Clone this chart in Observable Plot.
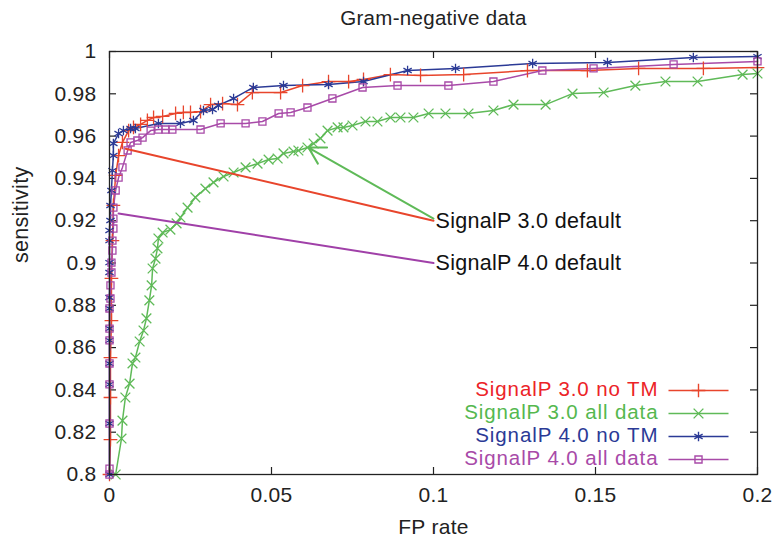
<!DOCTYPE html>
<html><head><meta charset="utf-8">
<script src="https://cdn.jsdelivr.net/npm/d3@7"></script>
<script src="https://cdn.jsdelivr.net/npm/@observablehq/plot@0.6"></script>
<style>body{margin:0;background:#fff;font-family:"Liberation Sans",Arial,sans-serif;} svg text{letter-spacing:0.3px;} svg g.legend-text text{letter-spacing:0.9px;}</style>
</head><body><div id="chart"></div>
<script>
const seriesNames = ["SignalP 3.0 no TM", "SignalP 3.0 all data", "SignalP 4.0 no TM", "SignalP 4.0 all data"];
const seriesColors = ["#e8452c", "#5fba58", "#2b3a96", "#a84aa8"];
const legendTextColors = ["#ec2327", "#55b84f", "#2b3a96", "#a84aa8"];
const seriesSymbols = ["plus", "times", "asterisk", "square2"];

const fp30noTM = [0, 0.0003, 0.0003, 0.0003, 0.0006, 0.0006, 0.0009, 0.0012, 0.0019, 0.0028, 0.0040, 0.0059, 0.0074, 0.0096, 0.0117, 0.0136, 0.0164, 0.0204, 0.0228, 0.0250, 0.0281, 0.0312, 0.0349, 0.0395, 0.0441, 0.0528, 0.0596, 0.0676, 0.0738, 0.0784, 0.0867, 0.0960, 0.1093, 0.1290, 0.1475, 0.1633, 0.1833, 0.2];
const sens30noTM = [0.8, 0.8165, 0.8364, 0.8553, 0.8728, 0.8927, 0.9106, 0.9272, 0.9414, 0.9508, 0.957, 0.9626, 0.9641, 0.9655, 0.9674, 0.9688, 0.9693, 0.9707, 0.9712, 0.9712, 0.9716, 0.9749, 0.9754, 0.9749, 0.9806, 0.9806, 0.9839, 0.9858, 0.9858, 0.9868, 0.9891, 0.9887, 0.9891, 0.9910, 0.9910, 0.9920, 0.9920, 0.9924];

const fp30all = [0.0019, 0.0037, 0.0040, 0.0049, 0.0062, 0.0071, 0.0080, 0.0093, 0.0105, 0.0114, 0.0123, 0.0130, 0.0133, 0.0142, 0.0148, 0.0151, 0.0164, 0.0188, 0.0207, 0.0219, 0.0241, 0.0265, 0.0296, 0.0321, 0.0352, 0.0383, 0.0420, 0.0457, 0.0491, 0.0519, 0.0537, 0.0568, 0.0583, 0.0611, 0.0630, 0.0651, 0.0673, 0.0704, 0.0722, 0.0750, 0.0790, 0.0827, 0.0867, 0.0898, 0.0938, 0.0985, 0.1037, 0.1108, 0.1185, 0.1247, 0.1346, 0.1429, 0.1525, 0.1623, 0.1716, 0.1815, 0.1954, 0.2];
const sens30all = [0.8, 0.817, 0.8255, 0.8364, 0.843, 0.8525, 0.8553, 0.8629, 0.8681, 0.8738, 0.8823, 0.8894, 0.8974, 0.9021, 0.9069, 0.9116, 0.9144, 0.9158, 0.9187, 0.9215, 0.9262, 0.9310, 0.9352, 0.9381, 0.9409, 0.9428, 0.9452, 0.9470, 0.9489, 0.9494, 0.9518, 0.9527, 0.9532, 0.9546, 0.9565, 0.9589, 0.9626, 0.9641, 0.9641, 0.9650, 0.9669, 0.9669, 0.9688, 0.9688, 0.9688, 0.9707, 0.9707, 0.9707, 0.9721, 0.9749, 0.9749, 0.9801, 0.9806, 0.9839, 0.9858, 0.9858, 0.9891, 0.9896];

const fp40noTM = [0, 0, 0, 0, 0, 0, 0, 0, 0, 0, 0, 0, 0.0003, 0.0003, 0.0006, 0.0009, 0.0012, 0.0012, 0.0028, 0.0043, 0.0065, 0.0080, 0.0151, 0.0219, 0.0259, 0.0290, 0.0318, 0.0336, 0.0383, 0.0444, 0.0537, 0.0676, 0.0784, 0.0920, 0.1068, 0.1306, 0.1537, 0.1802, 0.2];
const sens40noTM = [0.8, 0.8241, 0.8426, 0.8525, 0.8634, 0.8690, 0.8785, 0.8837, 0.8955, 0.9002, 0.9106, 0.9154, 0.9201, 0.9272, 0.9343, 0.9437, 0.9508, 0.9565, 0.9612, 0.9626, 0.9636, 0.9636, 0.9660, 0.9660, 0.9674, 0.9721, 0.9726, 0.9745, 0.9778, 0.9830, 0.9839, 0.9844, 0.9858, 0.9910, 0.9920, 0.9943, 0.9948, 0.9972, 0.9976];

const fp40all = [0, 0, 0, 0, 0, 0, 0, 0, 0.0003, 0.0003, 0.0006, 0.0006, 0.0009, 0.0009, 0.0012, 0.0012, 0.0012, 0.0019, 0.0028, 0.0040, 0.0056, 0.0065, 0.0086, 0.0102, 0.0127, 0.0151, 0.0173, 0.0194, 0.0281, 0.0343, 0.0420, 0.0472, 0.0522, 0.0559, 0.0611, 0.0688, 0.0781, 0.0889, 0.1046, 0.1185, 0.1336, 0.1494, 0.1741, 0.2];
const sens40all = [0.8, 0.8028, 0.8241, 0.8426, 0.8525, 0.8634, 0.8690, 0.8785, 0.8832, 0.8894, 0.8955, 0.9002, 0.9059, 0.9106, 0.9163, 0.9210, 0.9262, 0.9343, 0.9404, 0.9452, 0.9532, 0.9570, 0.9579, 0.9593, 0.9626, 0.9631, 0.9631, 0.9631, 0.9631, 0.9660, 0.9660, 0.9669, 0.9707, 0.9712, 0.9735, 0.9778, 0.9830, 0.9839, 0.9839, 0.9858, 0.9910, 0.9920, 0.9939, 0.9953];

const annotLabels = ["SignalP 3.0 default", "SignalP 3.0 default", "SignalP 4.0 default"];
const annotColors = ["#e8452c", "#5fba58", "#a040a8"];
const annotFromFp = [0.1, 0.1, 0.1];
const annotFromSens = [0.920, 0.921, 0.900];
const annotToFp = [0.005, 0.0614, 0.0028];
const annotToSens = [0.954, 0.9546, 0.9234];

const xTicks = [0, 0.05, 0.1, 0.15, 0.2];
const yTicks = [0.8, 0.82, 0.84, 0.86, 0.88, 0.9, 0.92, 0.94, 0.96, 0.98, 1];

const titleText = "Gram-negative data";
const xLabel = "FP rate";
const yLabel = "sensitivity";

const fpArrays = [fp30noTM, fp30all, fp40noTM, fp40all];
const sensArrays = [sens30noTM, sens30all, sens40noTM, sens40all];
const rows = [];
seriesNames.forEach((name, i) => {
  fpArrays[i].forEach((f, j) => rows.push({series: name, fp: f, sens: sensArrays[i][j]}));
});
const annots = annotLabels.map((l, i) => ({label: l, color: annotColors[i], x1: annotFromFp[i], y1: annotFromSens[i], x2: annotToFp[i], y2: annotToSens[i]}));
const annotTexts = annots.filter((d, i) => annotLabels.indexOf(d.label) === i);
const headed = annots.filter(d => d.color === "#5fba58");
const plain = annots.filter(d => d.color !== "#5fba58");

const W = 776, H = 542, mL = 109, mR = 19, mT = 51, mB = 68;
const fw = W - mL - mR, fh = H - mT - mB;
const tick = 7;
const font = "Liberation Sans, Arial, Helvetica, sans-serif";
const lineSym = {draw(ctx) { ctx.moveTo(-30, 0); ctx.lineTo(30, 0); }};

const colorOf = n => seriesColors[seriesNames.indexOf(n)];
const symOf = n => seriesSymbols[seriesNames.indexOf(n)];

const legendMarks = seriesNames.flatMap((name, i) => {
  const dy = -85 + i * 23;
  return [
    Plot.text([name], {frameAnchor: "bottom-right", text: d => d, dx: -99, dy, textAnchor: "end", lineAnchor: "middle", fill: legendTextColors[i], fontSize: 20.5, className: "legend-text"}),
    Plot.dot([name], {frameAnchor: "bottom-right", dx: -59, dy: dy + 1, symbol: lineSym, stroke: seriesColors[i], strokeWidth: 1.5}),
    Plot.dot([name], {frameAnchor: "bottom-right", dx: -59, dy: dy + 1, symbol: seriesSymbols[i], stroke: seriesColors[i], fill: "none", r: 4.5, strokeWidth: 1.4})
  ];
});

const chart = Plot.plot({
  width: W, height: H,
  marginLeft: mL, marginRight: mR, marginTop: mT, marginBottom: mB,
  style: {fontFamily: font, background: "#fff"},
  x: {domain: [0, 0.2]},
  y: {domain: [0.8, 1]},
  marks: [
    Plot.tickX(xTicks, {x: d => d, insetTop: fh - tick, stroke: "#222", strokeWidth: 1.2}),
    Plot.tickX(xTicks, {x: d => d, insetBottom: fh - tick, stroke: "#222", strokeWidth: 1.2}),
    Plot.tickY(yTicks, {y: d => d, insetRight: fw - tick, stroke: "#222", strokeWidth: 1.2}),
    Plot.tickY(yTicks, {y: d => d, insetLeft: fw - tick, stroke: "#222", strokeWidth: 1.2}),
    Plot.axisX({ticks: xTicks, tickSize: 0, tickPadding: 13, tickFormat: d => String(d), fontSize: 21, label: null, fill: "#222"}),
    Plot.axisY({ticks: yTicks, tickSize: 0, tickPadding: 13, tickFormat: d => String(d), fontSize: 21, label: null, fill: "#222"}),
    Plot.text([xLabel], {frameAnchor: "bottom", dy: 53, text: d => d, fontSize: 21, lineAnchor: "middle", fill: "#222"}),
    Plot.text([yLabel], {frameAnchor: "left", dx: -88, rotate: -90, text: d => d, fontSize: 21.5, lineAnchor: "middle", fill: "#222"}),
    Plot.text([titleText], {frameAnchor: "top", dy: -33, text: d => d, fontSize: 20.5, lineAnchor: "middle", fill: "#222"}),
    Plot.line(rows, {x: "fp", y: "sens", z: "series", stroke: d => colorOf(d.series), strokeWidth: 1.5}),
    Plot.dot(rows, {x: "fp", y: "sens", symbol: d => symOf(d.series), stroke: d => colorOf(d.series), fill: "none", r: 4.5, strokeWidth: 1.3}),
    Plot.arrow(plain, {x1: "x1", y1: "y1", x2: "x2", y2: "y2", stroke: d => d.color, strokeWidth: 2, headLength: 0}),
    Plot.arrow(headed, {x1: "x1", y1: "y1", x2: "x2", y2: "y2", stroke: d => d.color, strokeWidth: 2, headLength: 14}),
    Plot.text(annotTexts, {x: "x1", y: "y1", text: "label", textAnchor: "start", dx: 2, lineAnchor: "middle", fontSize: 21.5, fill: "#111"}),
    ...legendMarks,
    Plot.frame({stroke: "#222", strokeWidth: 1.3})
  ]
});
document.getElementById("chart").appendChild(chart);
</script>
</body></html>
